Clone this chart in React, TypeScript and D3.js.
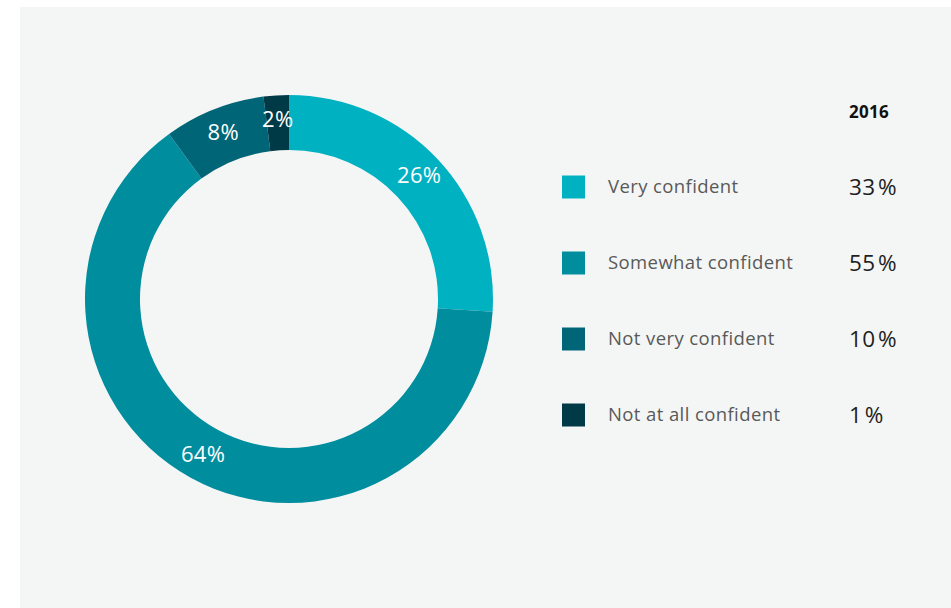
import { useRef, useEffect } from 'react'
import * as d3 from 'd3'

const WIDTH = 951
const HEIGHT = 608

const CATEGORIES = ['Very confident', 'Somewhat confident', 'Not very confident', 'Not at all confident']
const CURRENT = [26, 64, 8, 2]
const PRIOR_YEAR = '2016'
const PRIOR = [33, 55, 10, 1]
const COLORS = ['#00b1c2', '#008d9e', '#006577', '#003a47']

const CENTER = { x: 289, y: 299 }
const OUTER_R = 204
const INNER_R = 149
const FONT = '"Open Sans", "DejaVu Sans", sans-serif'

export default function App() {
  const svgRef = useRef<SVGSVGElement>(null)

  useEffect(() => {
    if (!svgRef.current) return
    const el = d3.select(svgRef.current)
    el.selectAll('*').remove()

    // background panel
    el.append('rect')
      .attr('x', 20).attr('y', 7)
      .attr('width', WIDTH - 20).attr('height', HEIGHT - 7)
      .attr('fill', '#f4f6f5')

    const rows = CATEGORIES.map((c, i) => ({ cat: c, value: CURRENT[i], color: COLORS[i] }))
    const pie = d3.pie<typeof rows[number]>().value((d) => d.value).sort(null)
    const arc = d3.arc<d3.PieArcDatum<typeof rows[number]>>().innerRadius(INNER_R).outerRadius(OUTER_R)
    const labelArc = d3.arc<d3.PieArcDatum<typeof rows[number]>>().innerRadius(INNER_R).outerRadius(OUTER_R + 4)

    const g = el.append('g').attr('transform', `translate(${CENTER.x},${CENTER.y})`)
    const arcs = pie(rows)

    g.selectAll('path')
      .data(arcs)
      .join('path')
      .attr('d', arc)
      .attr('fill', (d) => d.data.color)

    g.selectAll('text')
      .data(arcs)
      .join('text')
      .attr('transform', (d) => `translate(${labelArc.centroid(d)})`)
      .attr('text-anchor', 'middle')
      .attr('dy', '0.3em')
      .attr('fill', '#ffffff')
      .attr('font-family', FONT)
      .attr('font-size', '22px')
      .attr('letter-spacing', '0.3px')
      .text((d) => `${d.data.value}%`)

    // legend
    const lg = el.append('g')
    const y = d3.scaleBand().domain(CATEGORIES).range([149, 453])

    lg.append('text')
      .attr('x', 849).attr('y', 118)
      .attr('fill', '#111')
      .attr('font-family', FONT)
      .attr('font-weight', 700)
      .attr('font-size', '17px')
      .attr('letter-spacing', '0.3px')
      .text(PRIOR_YEAR)

    CATEGORIES.forEach((c, i) => {
      const cy = (y(c) ?? 0) + y.bandwidth() / 2
      lg.append('rect')
        .attr('x', 562).attr('y', cy - 11.5)
        .attr('width', 23).attr('height', 23)
        .attr('fill', COLORS[i])
      lg.append('text')
        .attr('x', 608).attr('y', cy)
        .attr('dy', '0.35em')
        .attr('fill', '#595959')
        .attr('font-family', FONT)
        .attr('font-size', '18.5px')
        .attr('letter-spacing', '0.4px')
        .text(c)
      lg.append('text')
        .attr('x', 849).attr('y', cy)
        .attr('dy', '0.35em')
        .attr('fill', '#1e1e1e')
        .attr('font-family', FONT)
        .attr('font-size', '22.5px')
        .attr('letter-spacing', '0.3px')
        .text(`${PRIOR[i]}\u200A%`)
    })
  }, [])

  return (
    <div style={{ position: 'absolute', left: 0, top: 0 }}>
      <svg ref={svgRef} width={WIDTH} height={HEIGHT} style={{ display: 'block', background: '#fff' }} />
    </div>
  )
}
